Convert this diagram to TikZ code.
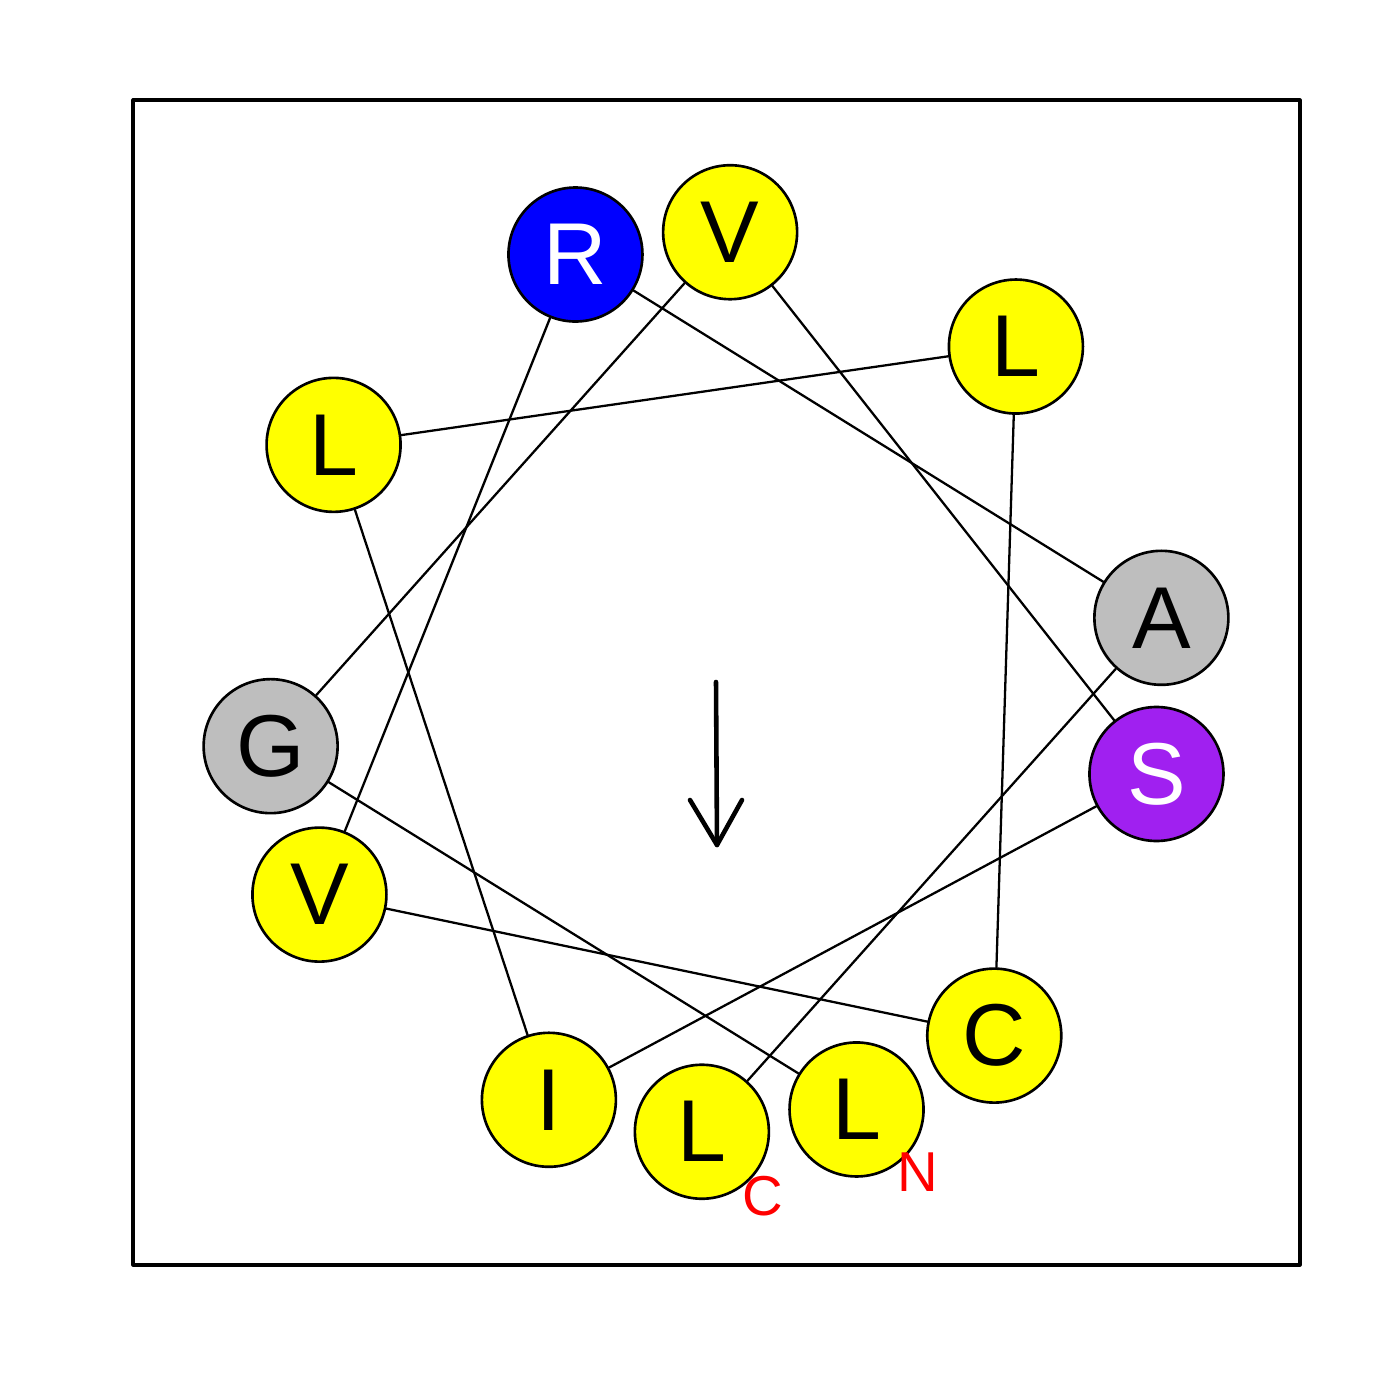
\documentclass[tikz,border=0pt]{standalone}
\usepackage{fontspec}
\setmainfont{Liberation Sans}
\definecolor{wheelyellow}{RGB}{255,255,0}
\definecolor{wheelgray}{HTML}{BEBEBE}
\definecolor{wheelpurple}{HTML}{A020F0}
\definecolor{wheelblue}{RGB}{0,0,255}
\begin{document}
\begin{tikzpicture}[line cap=round,line join=round,
  res/.style={circle,draw,line width=0.75pt,minimum size=1.34cm,inner sep=0pt,
    font=\fontsize{25}{25}\selectfont},
  term/.style={text=red,inner sep=0pt,font=\fontsize{16}{16}\selectfont}]
  \useasboundingbox (0,0) rectangle (14,14);
  \draw[line width=0.9pt,line cap=butt] (1.33,1.35) rectangle (13.00,13.00);
  % residues on the wheel, N-terminus first
  \begin{scope}[shift={(7.16,7.18)}]
    \foreach \i/\aa/\fc/\tc in {0/L/wheelyellow/black,1/G/wheelgray/black,2/V/wheelyellow/black,
      3/S/wheelpurple/white,4/I/wheelyellow/black,5/L/wheelyellow/black,6/L/wheelyellow/black,
      7/C/wheelyellow/black,8/V/wheelyellow/black,9/R/wheelblue/white,10/A/wheelgray/black,
      11/L/wheelyellow/black}
      \node[res,fill=\fc,text=\tc] (r\i) at ({-71.8-100*\i}:4.50) {\aa};
  \end{scope}
  \foreach \i [evaluate=\i as \j using int(\i+1)] in {0,...,10}
    \draw[line width=0.65pt] (r\i) -- (r\j);
  % moment arrow
  \coordinate (mtop) at (7.16,7.18);
  \coordinate (mtip) at (7.17,5.55);
  \draw[line width=1.3pt] (mtop) -- (mtip);
  \draw[line width=1.3pt] (6.90,6.00) -- (mtip) -- (7.42,6.00);
  \node[term] (nterm) at (9.18,2.28) {N};
  \node[term] (cterm) at (7.63,2.04) {C};
\end{tikzpicture}
\end{document}
